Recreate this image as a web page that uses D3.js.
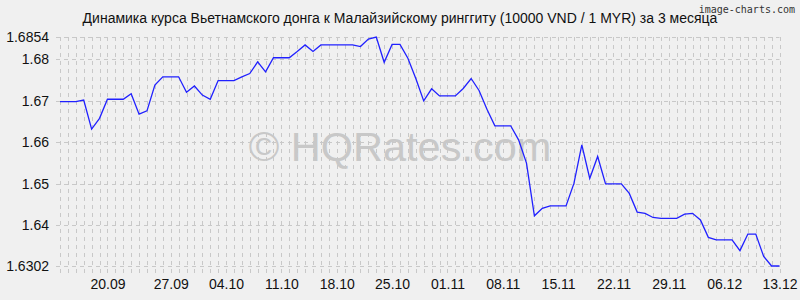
<!DOCTYPE html>
<html>
  <head>
    <meta charset="utf-8">
    <title>VND / MYR</title>
    <script type="text/javascript" src="https://cdn.jsdelivr.net/npm/d3@7"></script>
    <style>
      body { margin: 0; background: #f0f0f0; }
      svg { display: block; font-family: "Liberation Sans", Arial, sans-serif; }
    </style>
  </head>
  <body>
    <script type="text/javascript">
     // daily rates, 13.09 .. 13.12 (10000 VND / 1 MYR)
     let rates = [
       1.6698, 1.6698, 1.6698, 1.6702, 1.6632, 1.6658, 1.6704, 1.6704, 1.6704, 1.6717,
       1.6668, 1.6676, 1.6738, 1.6758, 1.6758, 1.6758, 1.6721, 1.6736, 1.6714, 1.6704,
       1.6749, 1.6749, 1.6749, 1.6758, 1.6766, 1.6794, 1.6770, 1.6804, 1.6804, 1.6804,
       1.6819, 1.6835, 1.6819, 1.6835, 1.6835, 1.6835, 1.6835, 1.6835, 1.6831, 1.6849,
       1.6854, 1.6793, 1.6836, 1.6836, 1.6803, 1.6754, 1.6700, 1.6729, 1.6712, 1.6712,
       1.6712, 1.6730, 1.6754, 1.6725, 1.6680, 1.6640, 1.6640, 1.6640, 1.6606, 1.6550,
       1.6423, 1.6441, 1.6447, 1.6447, 1.6447, 1.6501, 1.6594, 1.6513, 1.6566, 1.6500,
       1.6500, 1.6500, 1.6477, 1.6432, 1.6429, 1.6419, 1.6417, 1.6417, 1.6417, 1.6427,
       1.6429, 1.6413, 1.6371, 1.6365, 1.6365, 1.6365, 1.6339, 1.6379, 1.6379, 1.6325,
       1.6302, 1.6302
     ];

     // x tick labels and the day index they sit on
     let tickLabels = ["20.09", "27.09", "04.10", "11.10", "18.10", "25.10", "01.11",
                       "08.11", "15.11", "22.11", "29.11", "06.12", "13.12"];
     let tickIndex = [6, 14, 21, 28, 35, 42, 49, 56, 63, 70, 77, 84, 91];

     // y tick values
     let yTicks = [1.6302, 1.64, 1.65, 1.66, 1.67, 1.68, 1.6854];

     let title = "Динамика курса Вьетнамского донга к Малайзийскому ринггиту (10000 VND / 1 MYR) за 3 месяца";

     // set the canvas
     let w = 800;
     let h = 300;
     let margin = {top: 37, right: 20.5, bottom: 34, left: 60};

     let svg = d3.select("body").append("svg")
		 .attr("width", w)
		 .attr("height", h);

     svg.append("rect")
	.attr("width", w)
	.attr("height", h)
	.attr("fill", "#f0f0f0");

     // scales
     let xScale = d3.scaleLinear()
		    .domain([0, rates.length - 1])
		    .range([margin.left, w - margin.right]);
     let yScale = d3.scaleLinear()
		    .domain([d3.min(rates), d3.max(rates)])
		    .range([h - margin.bottom, margin.top]);

     // grid: one dashed vertical line per day
     let grid = svg.append("g")
		   .attr("stroke", "#c8c8c8")
		   .attr("stroke-width", 1)
		   .attr("stroke-dasharray", "4,4");

     grid.selectAll("line.v")
	 .data(d3.range(rates.length))
	 .enter()
	 .append("line")
	 .attr("class", "v")
	 .attr("x1", (d) => {return Math.round(xScale(d)) + 0.5;})
	 .attr("x2", (d) => {return Math.round(xScale(d)) + 0.5;})
	 .attr("y1", margin.top)
	 .attr("y2", h - margin.bottom + 10);

     grid.selectAll("line.h")
	 .data(yTicks)
	 .enter()
	 .append("line")
	 .attr("class", "h")
	 .attr("x1", margin.left - 4)
	 .attr("x2", w - margin.right)
	 .attr("y1", (d) => {return Math.round(yScale(d)) + 0.5;})
	 .attr("y2", (d) => {return Math.round(yScale(d)) + 0.5;});

     // watermark
     svg.append("text")
	.attr("x", 400)
	.attr("y", 161)
	.attr("text-anchor", "middle")
	.attr("font-size", 41.5)
	.attr("fill", "#c8c8c8")
	.text("© HQRates.com");

     // the rate line
     let line = d3.line()
		  .x((d, i) => {return xScale(i);})
		  .y((d) => {return yScale(d);});

     svg.append("path")
	.datum(rates)
	.attr("d", line)
	.attr("fill", "none")
	.attr("stroke", "#2020ff")
	.attr("stroke-width", 1.3);

     // axes (labels only, lines come from the grid)
     let yAxis = d3.axisLeft()
		   .scale(yScale)
		   .tickValues(yTicks)
		   .tickFormat((d) => {return String(d);})
		   .tickSize(0)
		   .tickPadding(11);
     svg.append("g")
	.attr("transform", "translate(" + margin.left + ", 0)")
	.call(yAxis);

     let xAxis = d3.axisBottom()
		   .scale(xScale)
		   .tickValues(tickIndex)
		   .tickFormat((d, i) => {return tickLabels[i];})
		   .tickSize(0)
		   .tickPadding(13);
     svg.append("g")
	.attr("transform", "translate(0, " + (h - margin.bottom) + ")")
	.call(xAxis);

     svg.selectAll(".domain").remove();
     svg.selectAll(".tick text")
	.attr("font-family", "Liberation Sans, Arial, sans-serif")
	.attr("font-size", 14)
	.attr("fill", "#111");

     // title and credit
     svg.append("text")
	.attr("x", 400)
	.attr("y", 23)
	.attr("text-anchor", "middle")
	.attr("font-size", 14)
	.attr("fill", "#111")
	.text(title);

     svg.append("text")
	.attr("x", 795)
	.attr("y", 13)
	.attr("text-anchor", "end")
	.attr("font-family", "DejaVu Sans Mono, monospace")
	.attr("font-size", 10)
	.attr("fill", "#333")
	.text("image-charts.com");
    </script>
  </body>
</html>
